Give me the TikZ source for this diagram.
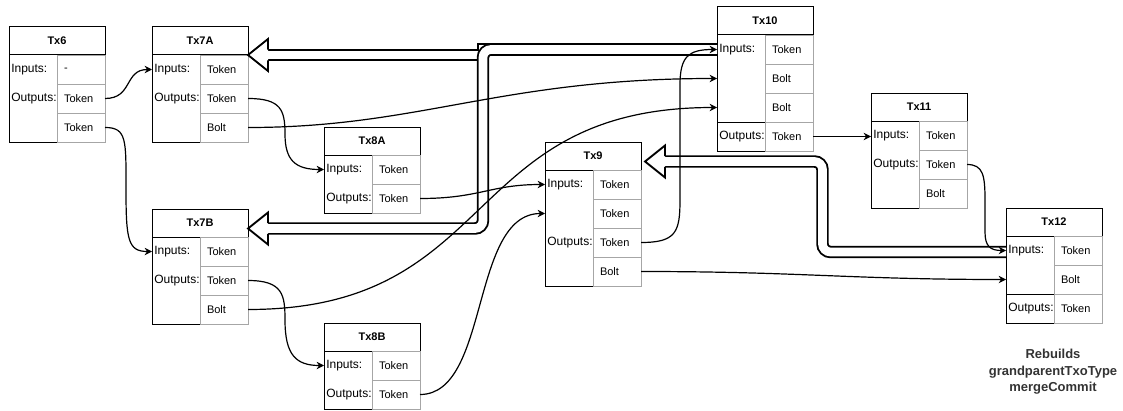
\documentclass[tikz,border=0pt]{standalone}
\usepackage{fontspec}
\setmainfont{Liberation Sans}
\usetikzlibrary{arrows.meta,calc}
\begin{document}
\begin{tikzpicture}[x=0.75pt,y=-0.75pt,
  ttl/.style={draw=black, line width=0.75pt, anchor=north west, minimum width=72pt, minimum height=21pt, inner sep=0pt, outer sep=0pt, font=\fontsize{8.25}{10}\selectfont\bfseries},
  lcol/.style={draw=black, line width=0.75pt, anchor=north west, minimum width=36pt, inner sep=0pt, outer sep=0pt},
  rcell/.style={draw=black!35, line width=0.6pt, anchor=north west, minimum height=21.75pt, text width=25.5pt, inner xsep=5.25pt, inner ysep=0pt, outer sep=0pt, align=left, font=\fontsize{8.25}{10}\selectfont},
  ltxt/.style={anchor=west, inner sep=0pt, xshift=1.5pt, font=\fontsize{9}{11}\selectfont},
  flexs/.style={draw=black, double=white, double distance=6.5pt, line width=1.4pt},
  flexh/.style={draw=black, line width=1.4pt, line join=miter},
  conn/.style={draw=black, line width=0.9pt, -{Stealth[length=5.5pt,width=5.5pt,inset=1.8pt]}},
  note/.style={align=center, inner sep=0pt, text=black!80, font=\fontsize{9.75}{12.4}\selectfont\bfseries}
]
\useasboundingbox (0,0) rectangle (1123,410);

% ---------- Tx6 ----------
\node[ttl] (t6t) at (9,27) {Tx6};
\node[lcol, minimum height=65.25pt] (t6l) at (9,55) {};
\node[rcell] (t6r1) at (57,55) {-};
\node[rcell] (t6r2) at (57,84) {Token};
\node[rcell] (t6r3) at (57,113) {Token};
\node[ltxt] (t6li) at (t6l.west |- t6r1) {Inputs:};
\node[ltxt] (t6lo) at (t6l.west |- t6r2) {Outputs:};

% ---------- Tx7A ----------
\node[ttl] (t7at) at (152,27) {Tx7A};
\node[lcol, minimum height=65.25pt] (t7al) at (152,55) {};
\node[rcell] (t7ar1) at (200,55) {Token};
\node[rcell] (t7ar2) at (200,84) {Token};
\node[rcell] (t7ar3) at (200,113) {Bolt};
\node[ltxt] (t7ali) at (t7al.west |- t7ar1) {Inputs:};
\node[ltxt] (t7alo) at (t7al.west |- t7ar2) {Outputs:};

% ---------- Tx7B ----------
\node[ttl] (t7bt) at (152,209) {Tx7B};
\node[lcol, minimum height=65.25pt] (t7bl) at (152,237) {};
\node[rcell] (t7br1) at (200,237) {Token};
\node[rcell] (t7br2) at (200,266) {Token};
\node[rcell] (t7br3) at (200,295) {Bolt};
\node[ltxt] (t7bli) at (t7bl.west |- t7br1) {Inputs:};
\node[ltxt] (t7blo) at (t7bl.west |- t7br2) {Outputs:};

% ---------- Tx8A ----------
\node[ttl] (t8at) at (324,127) {Tx8A};
\node[lcol, minimum height=43.5pt] (t8al) at (324,155) {};
\node[rcell] (t8ar1) at (372,155) {Token};
\node[rcell] (t8ar2) at (372,184) {Token};
\node[ltxt] (t8ali) at (t8al.west |- t8ar1) {Inputs:};
\node[ltxt] (t8alo) at (t8al.west |- t8ar2) {Outputs:};

% ---------- Tx8B ----------
\node[ttl] (t8bt) at (324,323) {Tx8B};
\node[lcol, minimum height=43.5pt] (t8bl) at (324,351) {};
\node[rcell] (t8br1) at (372,351) {Token};
\node[rcell] (t8br2) at (372,380) {Token};
\node[ltxt] (t8bli) at (t8bl.west |- t8br1) {Inputs:};
\node[ltxt] (t8blo) at (t8bl.west |- t8br2) {Outputs:};

% ---------- Tx9 ----------
\node[ttl] (t9t) at (545,142) {Tx9};
\node[lcol, minimum height=87pt] (t9l) at (545,170) {};
\node[rcell] (t9r1) at (593,170) {Token};
\node[rcell] (t9r2) at (593,199) {Token};
\node[rcell] (t9r3) at (593,228) {Token};
\node[rcell] (t9r4) at (593,257) {Bolt};
\node[ltxt] (t9li) at (t9l.west |- t9r1) {Inputs:};
\node[ltxt] (t9lo) at (t9l.west |- t9r3) {Outputs:};

% ---------- Tx10 ----------
\node[ttl] (t10t) at (717,7) {Tx10};
\node[lcol, minimum height=65.25pt] (t10l) at (717,35) {};
\node[lcol, minimum height=21.75pt] (t10lb) at (717,122) {};
\node[rcell] (t10r1) at (765,35) {Token};
\node[rcell] (t10r2) at (765,64) {Bolt};
\node[rcell] (t10r3) at (765,93) {Bolt};
\node[rcell] (t10r4) at (765,122) {Token};
\node[ltxt] (t10li) at (t10l.west |- t10r1) {Inputs:};
\node[ltxt] (t10lo) at (t10lb.west |- t10r4) {Outputs:};

% ---------- Tx11 ----------
\node[ttl] (t11t) at (871,93) {Tx11};
\node[lcol, minimum height=65.25pt] (t11l) at (871,121) {};
\node[rcell] (t11r1) at (919,121) {Token};
\node[rcell] (t11r2) at (919,150) {Token};
\node[rcell] (t11r3) at (919,179) {Bolt};
\node[ltxt] (t11li) at (t11l.west |- t11r1) {Inputs:};
\node[ltxt] (t11lo) at (t11l.west |- t11r2) {Outputs:};

% ---------- Tx12 ----------
\node[ttl] (t12t) at (1006,208) {Tx12};
\node[lcol, minimum height=43.5pt] (t12l) at (1006,236) {};
\node[lcol, minimum height=21.75pt] (t12lb) at (1006,294) {};
\node[rcell] (t12r1) at (1054,236) {Token};
\node[rcell] (t12r2) at (1054,265) {Bolt};
\node[rcell] (t12r3) at (1054,294) {Token};
\node[ltxt] (t12li) at (t12l.west |- t12r1) {Inputs:};
\node[ltxt] (t12lo) at (t12lb.west |- t12r3) {Outputs:};

% ---------- note ----------
\node[note] (rebuild) at (1053,372) {Rebuilds\\grandparentTxoType\\mergeCommit};

% ---------- flex arrows ----------
\coordinate (h1) at (t7at.south east);
\coordinate (h2) at ($(t7bt.east)+(0,5.5)$);
\coordinate (h3) at ($(t9t.east)+(4,5.5)$);

\draw[flexs] (t10l.west |- t10r1) -| (483,55) -- ($(h1)+(20,0)$);
\fill[white] (h1) -- ++(20,-16) -- ++(0,32) -- cycle;
\draw[flexh] ($(h1)+(20,-5.3)$) -- ++(0,-10.7) -- (h1) -- ++(20,16) -- ++(0,-10.7);

\draw[flexs, rounded corners=6pt] (t10l.west |- t10r1) -| (483,228.5) -- ($(h2)+(20,0)$);
\fill[white] (h2) -- ++(20,-16) -- ++(0,32) -- cycle;
\draw[flexh] ($(h2)+(20,-5.3)$) -- ++(0,-10.7) -- (h2) -- ++(20,16) -- ++(0,-10.7);

\draw[flexs, rounded corners=6pt] ($(t12l.west |- t12r1)+(0,1.5)$) -| (822.5,161.5) -- ($(h3)+(20,0)$);
\fill[white] (h3) -- ++(20,-16) -- ++(0,32) -- cycle;
\draw[flexh] ($(h3)+(20,-5.3)$) -- ++(0,-10.7) -- (h3) -- ++(20,16) -- ++(0,-10.7);

% ---------- connectors ----------
\draw[conn] (t6r2.east) .. controls (133,98.5) and (124,69.5) .. (t7al.west |- t7ar1);
\draw[conn] (t6r3.east) .. controls (127,127.5) and (126,140) .. (126,189.5) .. controls (126,240) and (128,251.5) .. (t7bl.west |- t7br1);
\draw[conn] (t7ar2.east) .. controls (281,98.5) and (285,110) .. (285,134) .. controls (285,160) and (295,169.5) .. (t8al.west |- t8ar1);
\draw[conn] (t7ar3.east) .. controls (420,127.5) and (500,78.5) .. (t10l.west |- t10r2);
\draw[conn] (t7br2.east) .. controls (283,280.5) and (285,295) .. (285,320) .. controls (285,355) and (296,365.5) .. (t8bl.west |- t8br1);
\draw[conn] (t7br3.east) .. controls (500,309.5) and (460,107.5) .. (t10l.west |- t10r3);
\draw[conn] (t8ar2.east) .. controls (480,198.5) and (490,184.5) .. (t9l.west |- t9r1);
\draw[conn] (t8br2.east) .. controls (490,394.5) and (470,213.5) .. (t9l.west |- t9r2);
\draw[conn] (t9r3.east) .. controls (676,242.5) and (680,232) .. (680,200) -- (680,85) .. controls (680,57) and (688,49.5) .. (t10l.west |- t10r1);
\draw[conn] (t9r4.east) .. controls (800,271.5) and (850,279.5) .. (t12l.west |- t12r2);
\draw[conn] (t10r4.east) -- (t10r4.east -| t11l.west);
\draw[conn] (t11r2.east) .. controls (983,164.5) and (985,175) .. (985,200) -- (985,232) .. controls (985,246) and (990,250.5) .. (t12l.west |- t12r1);
\end{tikzpicture}
\end{document}
